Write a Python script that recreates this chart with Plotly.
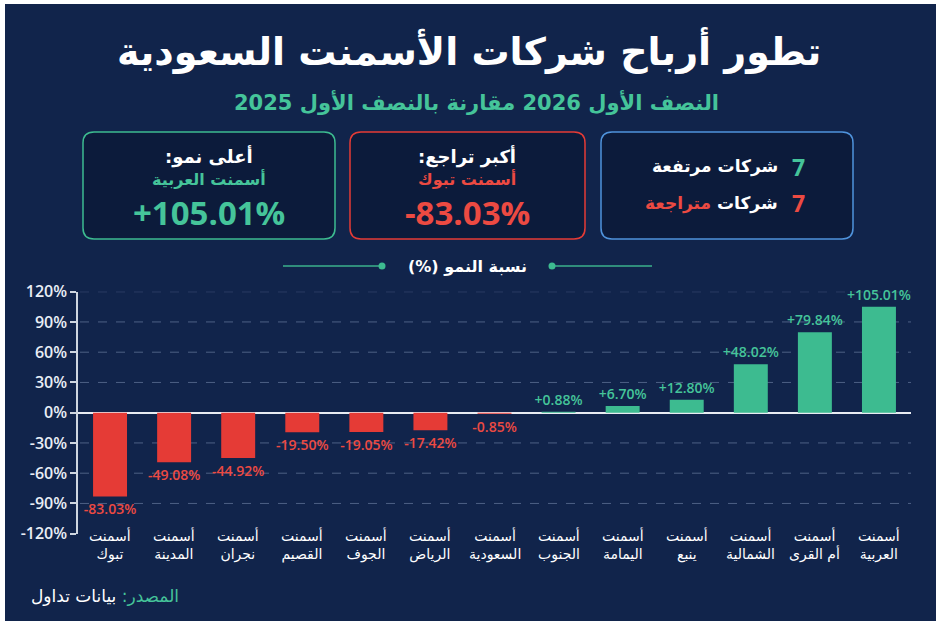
import plotly.graph_objects as go

W, H = 939, 621

# ---------------- data ----------------
companies = ["تبوك", "المدينة", "نجران", "القصيم", "الجوف", "الرياض", "السعودية",
             "الجنوب", "اليمامة", "ينبع", "الشمالية", "أم القرى", "العربية"]
growth = [-83.03, -49.08, -44.92, -19.50, -19.05, -17.42, -0.85,
          0.88, 6.70, 12.80, 48.02, 79.84, 105.01]
y_ticks = [-120, -90, -60, -30, 0, 30, 60, 90, 120]
prefix = "أسمنت"
n_up = 7
n_down = 7
top_name = "أسمنت العربية"
top_value = 105.01
worst_name = "أسمنت تبوك"
worst_value = -83.03

# ---------------- styles ----------------
BG = "#11244b"
BOX_BG = "#0c1b3b"
GREEN = "#3dbb90"
GREEN_T = "#45c49a"
RED = "#e53b36"
RED_T = "#ec4a42"
BLUE = "#4f93dc"
WHITE = "#ffffff"
AR = "DejaVu Sans"
NUM = "Open Sans"
RLM = "\u200f"

def X(px):
    return px / W

def Y(py):
    return 1 - py / H

def rrect(x0, y0, x1, y1, r):
    pts = [
        ("M", (x0 + r, y0)), ("L", (x1 - r, y0)), ("Q", (x1, y0), (x1, y0 + r)),
        ("L", (x1, y1 - r)), ("Q", (x1, y1), (x1 - r, y1)),
        ("L", (x0 + r, y1)), ("Q", (x0, y1), (x0, y1 - r)),
        ("L", (x0, y0 + r)), ("Q", (x0, y0), (x0 + r, y0)),
    ]
    s = ""
    for p in pts:
        s += p[0] + " " + " ".join(f"{X(a):.5f},{Y(b):.5f}" for a, b in p[1:]) + " "
    return s + "Z"

cats = [f"{prefix}<br>{c}" for c in companies]
colors = [GREEN if v >= 0 else RED for v in growth]
tcolors = [GREEN_T if v >= 0 else RED_T for v in growth]
texts = [f"{v:+.2f}%" for v in growth]

fig = go.Figure()
fig.add_trace(go.Bar(
    x=cats, y=growth, marker=dict(color=colors, line=dict(width=0)),
    text=texts, textposition="outside", cliponaxis=False, constraintext="none",
    textfont=dict(color=tcolors, size=14, family=NUM, weight=600),
    width=0.53, hoverinfo="skip"))

shapes = []
shapes.append(dict(type="rect", xref="paper", yref="paper", x0=X(5), x1=X(936), y0=Y(621), y1=Y(4),
                   fillcolor=BG, line=dict(width=0), layer="below"))
for (bx0, bx1, col) in [(83, 335, GREEN), (350, 585, RED), (601, 853, BLUE)]:
    shapes.append(dict(type="path", xref="paper", yref="paper", path=rrect(bx0, 132, bx1, 239, 11),
                       fillcolor=BOX_BG, line=dict(color=col, width=1.5), layer="below"))
shapes.append(dict(type="line", xref="paper", yref="paper", x0=X(283), x1=X(382), y0=Y(266), y1=Y(266),
                   line=dict(color="rgba(61,187,144,0.7)", width=2)))
shapes.append(dict(type="line", xref="paper", yref="paper", x0=X(552), x1=X(652), y0=Y(266), y1=Y(266),
                   line=dict(color="rgba(61,187,144,0.7)", width=2)))
for cx in (382, 552):
    shapes.append(dict(type="circle", xref="paper", yref="paper", x0=X(cx - 3.5), x1=X(cx + 3.5),
                       y0=Y(269.5), y1=Y(262.5), fillcolor=GREEN, line=dict(width=0)))
for t in y_ticks:
    if t in (0, y_ticks[0]):
        continue
    shapes.append(dict(type="line", xref="paper", yref="y", x0=X(80), x1=X(911), y0=t, y1=t,
                       line=dict(color="rgba(150,170,205,0.45)", width=1, dash="dash"), layer="below"))

ann = []
def A(text, x, y, size, color, weight="normal", family=AR, xanchor="center", yanchor="middle"):
    ann.append(dict(text=text, x=X(x), y=Y(y), xref="paper", yref="paper", showarrow=False,
                    xanchor=xanchor, yanchor=yanchor,
                    font=dict(size=size, color=color, family=family, weight=weight)))

A("تطور أرباح شركات الأسمنت السعودية", 469, 50, 38, WHITE, "bold")
A("النصف الأول 2026 مقارنة بالنصف الأول 2025", 476, 102, 21, GREEN_T, "bold")

A("أعلى نمو:" + RLM, 209, 156, 18, WHITE, "bold")
A(top_name, 209, 179, 16, GREEN_T, "bold")
A(f"{top_value:+.2f}%", 209, 213, 33, GREEN_T, "bold", NUM)
A("أكبر تراجع:" + RLM, 467, 156, 18, WHITE, "bold")
A(worst_name, 467, 179, 16, RED_T, "bold")
A(f"{worst_value:+.2f}%", 467, 213, 33, RED_T, "bold", NUM)

A(str(n_up), 798, 167, 23, GREEN_T, "bold", NUM)
A("شركات مرتفعة", 780, 167, 17, WHITE, "bold", xanchor="right")
A(str(n_down), 798, 203, 23, RED_T, "bold", NUM)
A(RLM + "شركات " + f"<span style='color:{RED_T}'>متراجعة</span>", 780, 203, 17, WHITE, "bold", xanchor="right")

A("نسبة النمو (%)" + RLM, 467, 266, 16, WHITE, "bold")

for c in cats:
    ann.append(dict(text=c, x=c, xref="x", y=Y(525), yref="paper", showarrow=False,
                    xanchor="center", yanchor="top",
                    font=dict(size=14, color=WHITE, family=AR)))

A(RLM + f"<span style='color:{GREEN_T}'>المصدر:</span> بيانات تداول", 181, 596, 17, WHITE, xanchor="right")

fig.update_layout(
    width=W, height=H, margin=dict(l=0, r=0, t=0, b=0, autoexpand=False),
    paper_bgcolor="white", plot_bgcolor="rgba(0,0,0,0)",
    showlegend=False, bargap=0.47,
    shapes=shapes, annotations=ann,
    xaxis=dict(domain=[X(78), X(911)], showticklabels=False, showgrid=False, zeroline=False,
               showline=False, ticks="", fixedrange=True, automargin=False),
    yaxis=dict(domain=[Y(533.7), Y(291.7)], range=[y_ticks[0], y_ticks[-1]], tickvals=y_ticks,
               ticktext=[f"{t}%" for t in y_ticks], automargin=False,
               showgrid=False, zeroline=True, zerolinecolor="#e8ecf2", zerolinewidth=1.5,
               showline=True, linecolor="#cfd6e0", linewidth=1.5, ticks="outside", ticklen=6,
               tickcolor="#cfd6e0", tickwidth=1.5,
               tickfont=dict(size=16, color="#e9eef6", family=NUM, weight=600), fixedrange=True),
    font=dict(family=AR),
)
fig.write_html("out.html", config={"displayModeBar": False},
               post_script="document.body.style.margin='0';document.body.style.overflow='hidden';")
